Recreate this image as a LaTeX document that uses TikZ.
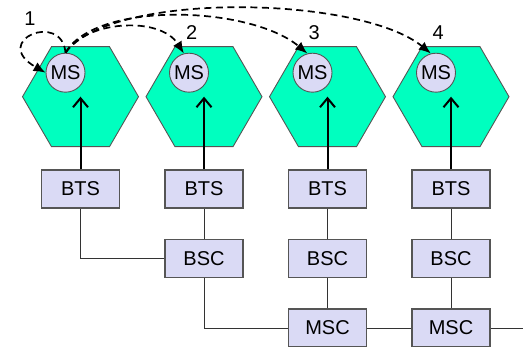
\documentclass[tikz,border=0pt]{standalone}
\usepackage{fontspec}
\setmainfont{Liberation Sans}
\usetikzlibrary{arrows.meta}

\definecolor{cellgreen}{RGB}{0,255,191}
\definecolor{boxblue}{RGB}{218,218,245}
\definecolor{edgegray}{RGB}{85,85,85}

\tikzset{
  cell/.style={draw=edgegray, line width=0.9pt, fill=cellgreen},
  msnode/.style={circle, draw=edgegray, line width=0.9pt, fill=boxblue, minimum size=39pt, inner sep=0pt},
  unit/.style={rectangle, draw=edgegray, line width=1.1pt, fill=boxblue, minimum width=78pt, minimum height=38pt, inner sep=0pt},
  link/.style={draw=black!80, line width=0.9pt},
  uplink/.style={line width=2pt, -{Straight Barb[length=9pt,width=15pt]}},
  hop/.style={line width=1.7pt, dash pattern=on 7pt off 4.5pt, -{Latex[length=12pt,width=10pt]}},
}

\begin{document}
\begin{tikzpicture}[x=1pt, y=1pt, font=\fontsize{20}{22}\selectfont]

\useasboundingbox (0,0) rectangle (523,346);

% cells
\draw[cell] (22.5,249.3) -- (51.5,299.3) -- (109.5,299.3) -- (138.5,249.3) -- (109.5,199.3) -- (51.5,199.3) -- cycle;
\draw[cell] (146,249.3) -- (175,299.3) -- (233,299.3) -- (262,249.3) -- (233,199.3) -- (175,199.3) -- cycle;
\draw[cell] (269.5,249.3) -- (298.5,299.3) -- (356.5,299.3) -- (385.5,249.3) -- (356.5,199.3) -- (298.5,199.3) -- cycle;
\draw[cell] (393,249.3) -- (422,299.3) -- (480,299.3) -- (509,249.3) -- (480,199.3) -- (422,199.3) -- cycle;

\coordinate (c1) at (80.5,249.3);
\coordinate (c2) at (204,249.3);
\coordinate (c3) at (327.5,249.3);
\coordinate (c4) at (451,249.3);

\node[msnode] (ms1) at (65.5,273.3) {MS};
\node[msnode] (ms2) at (189,273.3) {MS};
\node[msnode] (ms3) at (312.5,273.3) {MS};
\node[msnode] (ms4) at (436,273.3) {MS};

% network
\node[unit] (bts1) at (80.5,157) {BTS};
\node[unit] (bts2) at (204,157) {BTS};
\node[unit] (bts3) at (327.5,157) {BTS};
\node[unit] (bts4) at (451,157) {BTS};

\node[unit] (bsc2) at (204,87.3) {BSC};
\node[unit] (bsc3) at (327.5,87.3) {BSC};
\node[unit] (bsc4) at (451,87.3) {BSC};

\node[unit] (msc3) at (327.5,18) {MSC};
\node[unit] (msc4) at (451,18) {MSC};

\coordinate (out) at (523,18);

\draw[link] (bts1.south) |- (bsc2.west);
\draw[link] (bts2) -- (bsc2);
\draw[link] (bts3) -- (bsc3);
\draw[link] (bts4) -- (bsc4);
\draw[link] (bsc2.south) |- (msc3.west);
\draw[link] (bsc3) -- (msc3);
\draw[link] (bsc4) -- (msc4);
\draw[link] (msc3) -- (msc4);
\draw[link] (msc4) -- (out);

\draw[uplink] (bts1) -- (c1);
\draw[uplink] (bts2) -- (c2);
\draw[uplink] (bts3) -- (c3);
\draw[uplink] (bts4) -- (c4);

% handovers
\draw[hop] (ms1.north) .. controls +(-3.5,42) and +(-56,32) .. (ms1.west);
\draw[hop] (ms1.north) .. controls +(19.5,32) and +(-24,38) .. (ms2.105);
\draw[hop] (ms1.north) .. controls +(29.5,52) and +(-57.6,48) .. (ms3.105);
\draw[hop] (ms1.north) .. controls +(44.5,62) and +(-71,58) .. (ms4.105);

\node (lbl1) at (30,327.7) {1};
\node (lbl2) at (191.7,313) {2};
\node (lbl3) at (314.3,313) {3};
\node (lbl4) at (438.3,313) {4};

\end{tikzpicture}
\end{document}
